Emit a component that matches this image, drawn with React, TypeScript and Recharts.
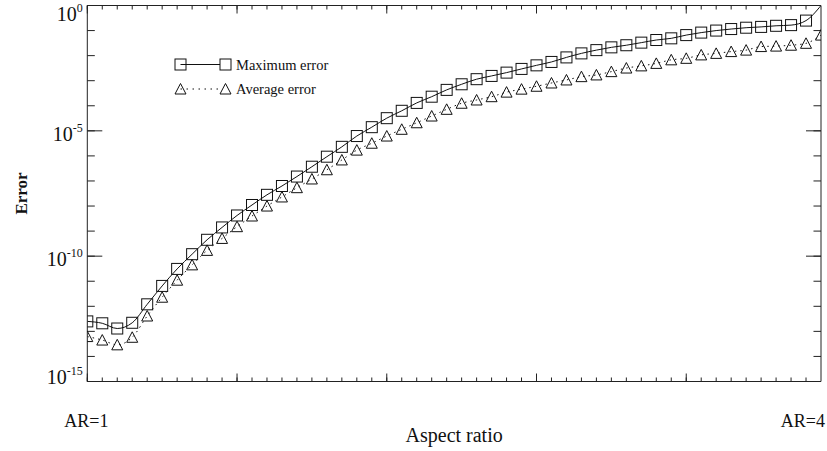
import React from 'react';
import { LineChart, Line, XAxis, YAxis, Legend } from 'recharts';

// Maximum / average error at each aspect-ratio step (AR=1 .. AR=4)
const maxErr = [
  2.5e-13, 2.1e-13, 1.3e-13, 2.2e-13, 1.2e-12, 6.5e-12, 3.1e-11, 1.2e-10, 4.5e-10, 1.4e-9,
  4.2e-9, 1.1e-8, 2.8e-8, 6.3e-8, 1.5e-7, 3.7e-7, 9.3e-7, 2.3e-6, 6.2e-6, 1.4e-5,
  3.2e-5, 6.3e-5, 1.3e-4, 2.3e-4, 4.3e-4, 7.2e-4, 1.15e-3, 1.55e-3, 2.1e-3, 2.95e-3,
  4.1e-3, 5.6e-3, 8.5e-3, 1.23e-2, 1.66e-2, 2.14e-2, 2.6e-2, 3.3e-2, 4.2e-2, 4.9e-2,
  6.6e-2, 8.3e-2, 0.1, 0.115, 0.13, 0.14, 0.155, 0.165, 0.25, 1.0,
];
const avgErr = [
  6.2e-14, 4.5e-14, 2.9e-14, 5.8e-14, 4.1e-13, 2.3e-12, 1.1e-11, 4.5e-11, 1.7e-10, 5.1e-10,
  1.5e-9, 4.0e-9, 1.0e-8, 2.3e-8, 5.4e-8, 1.2e-7, 2.8e-7, 6.9e-7, 1.7e-6, 3.2e-6,
  6.2e-6, 1.15e-5, 2.1e-5, 3.9e-5, 7.2e-5, 1.26e-4, 1.7e-4, 2.3e-4, 3.5e-4, 4.6e-4,
  6.0e-4, 8.1e-4, 1.07e-3, 1.45e-3, 1.7e-3, 2.3e-3, 3.2e-3, 3.9e-3, 4.9e-3, 6.8e-3,
  7.8e-3, 1.07e-2, 1.23e-2, 1.45e-2, 1.66e-2, 2.3e-2, 2.4e-2, 2.6e-2, 3.1e-2, 6.6e-2,
];
const steps = maxErr.map((_, i) => i);

const xEndTicks = [0, 49];
const xEndLabels = ['AR=1', 'AR=4'];
const xMajorTicks = [0, 10, 20, 30, 40];
const xMinorTicks = steps.slice(0, 49);

const yMajorTicks = [1e-15, 1e-10, 1e-5, 1];
const yExponents = ['-15', '-10', '-5', '0'];
const yMinorTicks = [
  1e-15, 1e-14, 1e-13, 1e-12, 1e-11, 1e-10, 1e-9, 1e-8,
  1e-7, 1e-6, 1e-5, 1e-4, 1e-3, 1e-2, 1e-1, 1,
];

const data = steps.map((s, i) => ({ i: s, max: maxErr[i], avg: avgErr[i] }));

const FONT = "'Liberation Serif', 'Times New Roman', serif";
const INK = '#111';
const AXIS = '#222';
const X_DOMAIN: [number, number] = [0, 49];
const Y_DOMAIN: [number, number] = [1e-15, 1];
// mirrored frame axes need a non-zero size to be drawn, but must not push each other inward
const THIN = 0.01;

const NoLabel = () => <g />;

const squareAt = (cx: number, cy: number, key?: React.Key) => (
  <rect key={key} x={cx - 5.5} y={cy - 5.5} width={11} height={11} fill="none" stroke={INK} strokeWidth={1} />
);
const triangleAt = (cx: number, cy: number, key?: React.Key) => (
  <polygon
    key={key}
    points={`${cx},${cy - 5.5} ${cx - 5.5},${cy + 5} ${cx + 5.5},${cy + 5}`}
    fill="none"
    stroke={INK}
    strokeWidth={1}
  />
);

const SquareDot = (props: any) => {
  const { cx, cy, index } = props;
  // the last square sits on the frame corner and is not drawn in the original
  if (cx == null || cy == null || index === maxErr.length - 1) return <g key={`sq-${index}`} />;
  return squareAt(cx, cy, `sq-${index}`);
};
const TriangleDot = (props: any) => {
  const { cx, cy, index } = props;
  if (cx == null || cy == null) return <g key={`tr-${index}`} />;
  return triangleAt(cx, cy, `tr-${index}`);
};

const YTickLabel = (props: any) => {
  const { x, y, payload } = props;
  const idx = yMajorTicks.indexOf(payload.value);
  let dy = 10;
  if (idx === yMajorTicks.length - 1) dy = 15;
  if (idx === 0) dy = 2;
  return (
    <text x={x - 4.5} y={y + dy} textAnchor="end" fontFamily={FONT} fontSize={20} fill={INK}>
      10
      <tspan dy={-9} fontSize={12}>{yExponents[idx]}</tspan>
    </text>
  );
};

const XTickLabel = (props: any) => {
  const { x, y, payload } = props;
  const idx = xEndTicks.indexOf(payload.value);
  const last = idx === xEndTicks.length - 1;
  return (
    <text
      x={last ? x + 4 : x - 1}
      y={y + 45}
      textAnchor={last ? 'end' : 'middle'}
      fontFamily={FONT}
      fontSize={18}
      fill={INK}
    >
      {xEndLabels[idx]}
    </text>
  );
};

const seriesOrder = ['max', 'avg'];

const renderLegend = (props: any) => {
  const payload = [...(props.payload || [])].sort(
    (a: any, b: any) => seriesOrder.indexOf(a.dataKey) - seriesOrder.indexOf(b.dataKey)
  );
  return (
    <svg width={190} height={50} style={{ display: 'block', overflow: 'visible' }}>
      {payload.map((entry: any, i: number) => {
        const cy = 12.5 + i * 24.5;
        const isMax = entry.dataKey === 'max';
        return (
          <g key={entry.dataKey}>
            <line
              x1={12.5}
              y1={cy}
              x2={52}
              y2={cy}
              stroke={INK}
              strokeWidth={1}
              strokeDasharray={isMax ? undefined : '1.5 4.5'}
            />
            {isMax ? squareAt(12.5, cy) : triangleAt(12.5, cy)}
            {isMax ? squareAt(57.5, cy) : triangleAt(57.5, cy)}
            <text x={68} y={cy + 5} fontFamily={FONT} fontSize={14.5} fill={INK}>
              {entry.value}
            </text>
          </g>
        );
      })}
    </svg>
  );
};

export default function App() {
  return (
    <div style={{ position: 'absolute', left: 0, top: 0, background: '#fff' }}>
      <LineChart width={827} height={451} data={data} margin={{ top: 5.5, right: 6, bottom: 0, left: 0 }}>
        {/* labelled axes (no lines) */}
        <XAxis
          xAxisId="x"
          dataKey="i"
          type="number"
          domain={X_DOMAIN}
          ticks={xEndTicks}
          interval={0}
          height={69.5}
          tickSize={0}
          tickMargin={0}
          axisLine={false}
          tickLine={false}
          allowDataOverflow
          tick={<XTickLabel />}
          label={{
            content: (p: any) => {
              const vb = p.viewBox || {};
              return (
                <text x={vb.x + vb.width / 2} y={vb.y + 60.5} textAnchor="middle" fontFamily={FONT} fontSize={20} fill={INK}>
                  Aspect ratio
                </text>
              );
            },
          }}
        />
        <YAxis
          yAxisId="y"
          type="number"
          scale="log"
          domain={Y_DOMAIN}
          ticks={yMajorTicks}
          interval={0}
          width={87.3}
          tickSize={0}
          tickMargin={0}
          axisLine={false}
          tickLine={false}
          allowDataOverflow
          tick={<YTickLabel />}
          label={{
            content: (p: any) => {
              const vb = p.viewBox || {};
              const cx = 26.5;
              const cy = vb.y + vb.height / 2;
              return (
                <text
                  x={cx}
                  y={cy}
                  transform={`rotate(-90 ${cx} ${cy})`}
                  textAnchor="middle"
                  fontFamily={FONT}
                  fontSize={17}
                  fontWeight="bold"
                  fill={INK}
                >
                  Error
                </text>
              );
            },
          }}
        />

        {/* frame with inward ticks */}
        <XAxis xAxisId="xbMaj" type="number" domain={X_DOMAIN} ticks={xMajorTicks} interval={0} orientation="bottom" mirror height={THIN} tickSize={8} tick={<NoLabel />} stroke={AXIS} allowDataOverflow />
        <XAxis xAxisId="xbMin" type="number" domain={X_DOMAIN} ticks={xMinorTicks} interval={0} orientation="bottom" mirror height={THIN} tickSize={4} tick={<NoLabel />} axisLine={false} stroke={AXIS} allowDataOverflow />
        <XAxis xAxisId="xtMaj" type="number" domain={X_DOMAIN} ticks={xMajorTicks} interval={0} orientation="top" mirror height={THIN} tickSize={8} tick={<NoLabel />} stroke={AXIS} allowDataOverflow />
        <XAxis xAxisId="xtMin" type="number" domain={X_DOMAIN} ticks={xMinorTicks} interval={0} orientation="top" mirror height={THIN} tickSize={4} tick={<NoLabel />} axisLine={false} stroke={AXIS} allowDataOverflow />
        <YAxis yAxisId="ylMaj" type="number" scale="log" domain={Y_DOMAIN} ticks={yMajorTicks} interval={0} orientation="left" mirror width={THIN} tickSize={15} tick={<NoLabel />} stroke={AXIS} allowDataOverflow />
        <YAxis yAxisId="ylMin" type="number" scale="log" domain={Y_DOMAIN} ticks={yMinorTicks} interval={0} orientation="left" mirror width={THIN} tickSize={7.5} tick={<NoLabel />} axisLine={false} stroke={AXIS} allowDataOverflow />
        <YAxis yAxisId="yrMaj" type="number" scale="log" domain={Y_DOMAIN} ticks={yMajorTicks} interval={0} orientation="right" mirror width={THIN} tickSize={15} tick={<NoLabel />} stroke={AXIS} allowDataOverflow />
        <YAxis yAxisId="yrMin" type="number" scale="log" domain={Y_DOMAIN} ticks={yMinorTicks} interval={0} orientation="right" mirror width={THIN} tickSize={7.5} tick={<NoLabel />} axisLine={false} stroke={AXIS} allowDataOverflow />

        <Legend
          layout="vertical"
          align="center"
          verticalAlign="middle"
          wrapperStyle={{ left: 168, top: 52, width: 190, height: 50 }}
          content={renderLegend}
        />

        <Line
          xAxisId="x"
          yAxisId="y"
          dataKey="max"
          name="Maximum error"
          type="monotone"
          stroke={INK}
          strokeWidth={1}
          dot={SquareDot}
          activeDot={false}
          isAnimationActive={false}
        />
        <Line
          xAxisId="x"
          yAxisId="y"
          dataKey="avg"
          name="Average error"
          type="monotone"
          stroke={INK}
          strokeWidth={1}
          strokeDasharray="1.5 4"
          dot={TriangleDot}
          activeDot={false}
          isAnimationActive={false}
        />
      </LineChart>
    </div>
  );
}
